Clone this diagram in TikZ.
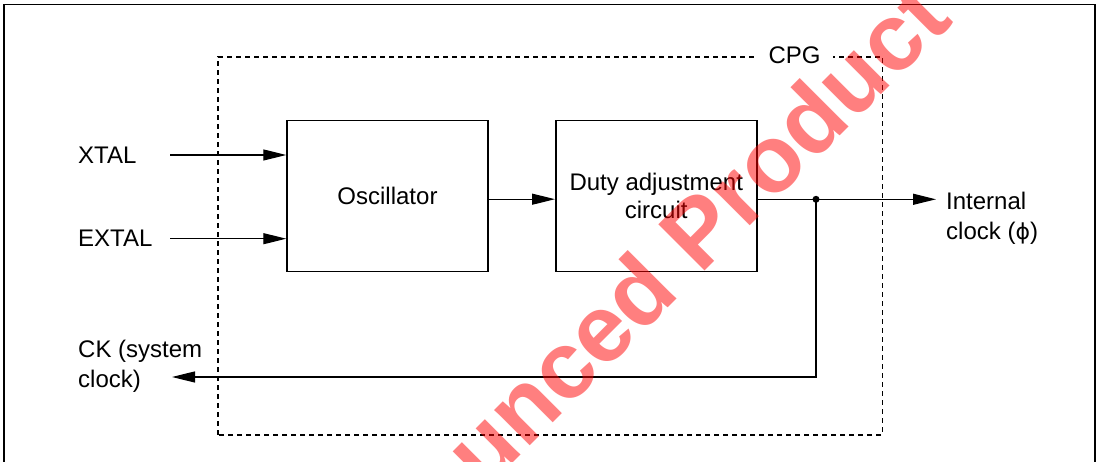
\documentclass[tikz,border=0pt]{standalone}
\usepackage{fontspec}
\setmainfont{Liberation Sans}
\newfontfamily\greekfont{DejaVu Sans}
\usepackage{xcolor}
\definecolor{wmred}{RGB}{255,0,0}
\usetikzlibrary{arrows.meta, positioning}

\begin{document}
\begin{tikzpicture}[x=1pt, y=1pt,
  font=\fontsize{24}{30}\selectfont,
  block/.style={draw, line width=1.5pt, minimum width=201pt, minimum height=151pt,
                inner sep=0pt, align=center},
  sig/.style={line width=1.2pt, -{Triangle[length=23pt, width=11pt]}},
  lbl/.style={anchor=west, inner sep=0pt, align=left}]

\useasboundingbox (0,0) rectangle (1100,462);
\clip (0,0) rectangle (1100,462);

% Page frame
\draw[line width=1.5pt] (4,-10) -- (4,457.5) -- (1095,457.5) -- (1095,-10);

% --- CPG block ---
\draw[line width=1.2pt, dash pattern=on 5pt off 4pt] (218,27) rectangle (882.5,405);
\node[fill=white, inner xsep=12pt, inner ysep=2pt, anchor=base] (cpg) at (794.5,398.7) {CPG};

% Oscillator and duty circuit
\node[block] (osc) at (387.5,265.8) {Oscillator};
\node[block, font=\fontsize{24}{28}\selectfont] (duty) at (656.25,265.8) {Duty adjustment\\circuit};

% Pin labels
\node[lbl] (xtal) at (78,307) {XTAL};
\node[lbl] (extal) at (78,223.3) {EXTAL};
\node[lbl] (ck) at (78,95.5) {CK (system\\clock)};
\node[lbl] (iclk) at (946,244) {Internal\\clock ({\greekfont\fontsize{22}{28}\selectfont ϕ})};

% Free ends of the signals
\coordinate (xin) at (170,307);
\coordinate (exin) at (170,223.3);
\coordinate (tap) at (816,262.7);
\coordinate (ckout) at (172,85);
\coordinate (iout) at (936,262.7);

% Signals
\draw[sig] (xin) -- (xin -| osc.west);
\draw[sig] (exin) -- (exin -| osc.west);
\draw[sig] ([yshift=-3pt]osc.east) -- ([yshift=-3pt]duty.west);
\draw[sig] (tap -| duty.east) -- (iout);
\draw[sig] (tap) |- (ckout);
\fill (tap) circle (3.5pt);

% Watermark
\node[text=wmred, text opacity=0.5, font=\fontsize{95}{100}\selectfont\bfseries,
      rotate=45, anchor=base west, inner sep=0pt] (wm) at (484,-30) {unced Product};

\end{tikzpicture}
\end{document}
